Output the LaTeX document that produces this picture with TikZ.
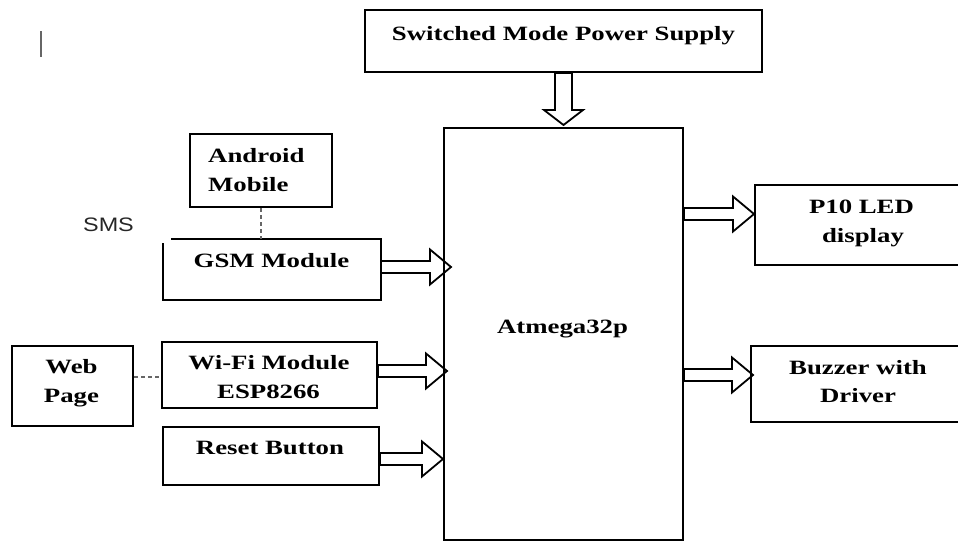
\documentclass[tikz,border=0pt]{standalone}
\usepackage{fontspec}
\setmainfont{Liberation Serif}[FakeStretch=1.32]
\newfontfamily\smsfont{Liberation Sans}[FakeStretch=1.2]
\usetikzlibrary{calc}
\newcommand\rightblockarrow[2]{%
  \draw[barrow] let \p1=(#1), \p2=(#2) in
    (\x1,\y1+6pt) -- (\x2-21pt,\y1+6pt) -- (\x2-21pt,\y1+17.5pt) -- (\x2,\y1)
    -- (\x2-21pt,\y1-17.5pt) -- (\x2-21pt,\y1-6pt) -- (\x1,\y1-6pt) -- cycle;}
\begin{document}
\begin{tikzpicture}[x=1pt,y=-1pt,
  box/.style={draw=black, line width=2pt, inner sep=0pt, anchor=north west},
  lbl/.style={font=\fontsize{20.3}{29}\selectfont\bfseries, anchor=base, inner sep=0pt},
  dashline/.style={draw=black!60, line width=1.2pt, dash pattern=on 4pt off 3pt},
  barrow/.style={draw=black, line width=1.8pt, line join=miter}]
\useasboundingbox (0,0) rectangle (958,541);
\clip (0,0) rectangle (958,541);

% boxes
\node[box, minimum width=397, minimum height=62] (smps) at (364,9) {};
\node[box, minimum width=239, minimum height=412] (atmega) at (443,127) {};
\node[box, minimum width=142, minimum height=73] (android) at (189,133) {};
\node[box, draw=none, minimum width=216, minimum height=59] (gsm) at (163,239) {};
\draw[line width=2pt] ($(gsm.north west)+(8,0)$) -| (gsm.south east) -| ($(gsm.north west)+(0,4)$);
\node[box, minimum width=121, minimum height=80] (web) at (11,345) {};
\node[box, minimum width=215, minimum height=66] (wifi) at (161,341) {};
\node[box, minimum width=216, minimum height=58] (reset) at (162,426) {};
\node[box, minimum width=230, minimum height=80] (p10) at (754,184) {};
\node[box, minimum width=230, minimum height=76] (buzzer) at (750,345) {};

% labels
\node[lbl] (tsmps) at (563.5,40) {Switched Mode Power Supply};
\node[lbl] (tatm) at (562.5,333) {Atmega32p};
\node[lbl, anchor=base west] (tand1) at (208,162) {Android};
\node[lbl, anchor=base west] (tand2) at (208,191) {Mobile};
\node[lbl] (tgsm) at (271.5,267) {GSM Module};
\node[lbl] (tweb1) at (71.5,373) {Web};
\node[lbl] (tweb2) at (71.5,402) {Page};
\node[lbl] (twifi1) at (269,369) {Wi-Fi Module};
\node[lbl] (twifi2) at (268.5,398) {ESP8266};
\node[lbl] (treset) at (270,454) {Reset Button};
\node[lbl] (tp101) at (861.5,213) {P10 LED};
\node[lbl] (tp102) at (863,242) {display};
\node[lbl] (tbuz1) at (858,374) {Buzzer with};
\node[lbl] (tbuz2) at (858,402) {Driver};
\node[font=\smsfont\fontsize{19.5}{24}\selectfont, anchor=base, inner sep=0pt, text=black!85] (sms) at (108.5,231) {SMS};

% cursor bar
\draw[black!60, line width=1.3pt] (41,31) -- (41,57);

% dashed links
\draw[dashline] (android.south) -- (android.south |- gsm.north);
\draw[dashline] ($(web.east)+(0,-9)$) coordinate (w1) -- (w1 -| wifi.west);

% block arrows
\draw[barrow] let \p1=(smps.south), \p2=(atmega.north) in
  (\x1-8.5pt,\y1) -- (\x1-8.5pt,\y2+17pt) -- (\x1-19.5pt,\y2+17pt) -- (\x1,\y2+2pt)
  -- (\x1+19.5pt,\y2+17pt) -- (\x1+8.5pt,\y2+17pt) -- (\x1+8.5pt,\y1) -- cycle;
\rightblockarrow{$(gsm.east)+(0,-2.5)$}{$(atmega.west)+(8,0)$}
\rightblockarrow{$(wifi.east)+(0,-4)$}{$(atmega.west)+(4,0)$}
\rightblockarrow{$(reset.east)+(0,3)$}{atmega.west}
\rightblockarrow{$(atmega.east |- p10.west)+(0,-11)$}{p10.west}
\rightblockarrow{$(atmega.east |- buzzer.west)+(0,-9)$}{$(buzzer.west)+(3,0)$}
\end{tikzpicture}
\end{document}
